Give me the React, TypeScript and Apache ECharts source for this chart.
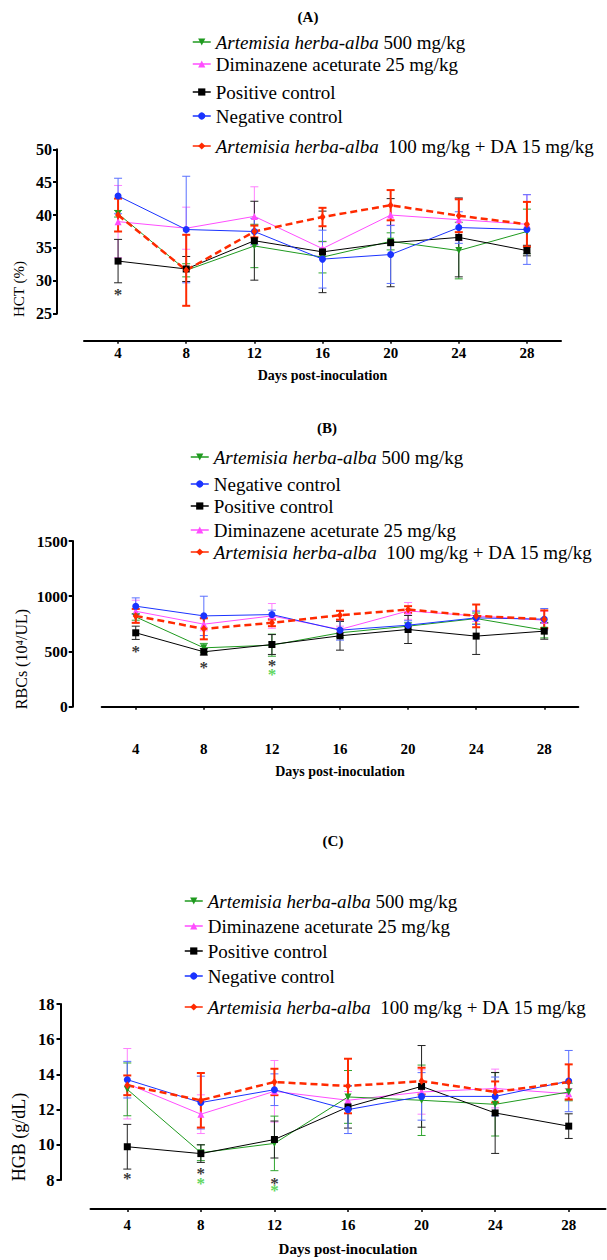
import React, { useEffect, useRef } from "react";
import * as echarts from "echarts";

// ---------- data ----------
const days = [4, 8, 12, 16, 20, 24, 28];

const NAME_AHA500 = "Artemisia herba-alba 500 mg/kg";
const NAME_DA25 = "Diminazene aceturate 25 mg/kg";
const NAME_POS = "Positive control";
const NAME_NEG = "Negative control";
const NAME_COMBO = "Artemisia herba-alba  100 mg/kg + DA 15 mg/kg";

// (A) HCT (%)
const hctAha500 = [40.2, 31.6, 35.3, 33.6, 36.0, 34.6, 37.5];
const hctAha500Sd = [0.5, 1.0, 3.3, 2.4, 1.3, 4.3, 3.4];
const hctDa25 = [39.0, 38.0, 39.8, 34.9, 40.0, 39.3, 38.6];
const hctDa25Sd = [5.5, 3.2, 4.5, 1.0, 1.5, 3.2, 4.5];
const hctPos = [33.0, 31.8, 36.1, 34.4, 35.8, 36.6, 34.6];
const hctPosSd = [3.3, 1.9, 6.0, 6.2, 6.7, 6.0, 0.8];
const hctNeg = [42.9, 37.8, 37.5, 33.3, 34.0, 38.1, 37.8];
const hctNegSd = [2.7, 8.1, 2.0, 4.4, 4.4, 2.4, 5.3];
const hctCombo = [40.0, 31.6, 37.5, 39.7, 41.5, 39.9, 38.6];
const hctComboSd = [2.5, 5.4, 0.9, 1.4, 2.3, 2.5, 3.4];
const hctStarsBlack = [[4, 28.7]];
const hctStarsGreen: number[][] = [];

// (B) RBCs (10^4/UL)
const rbcAha500 = [813, 533, 557, 669, 729, 798, 693];
const rbcAha500Sd = [30, 40, 100, 40, 30, 50, 70];
const rbcNeg = [910, 822, 834, 693, 738, 804, 792];
const rbcNegSd = [75, 178, 40, 90, 40, 60, 97];
const rbcPos = [669, 497, 563, 642, 699, 639, 684];
const rbcPosSd = [60, 30, 90, 130, 127, 166, 73];
const rbcDa25 = [864, 747, 822, 699, 867, 822, 783];
const rbcDa25Sd = [100, 60, 112, 30, 76, 50, 80];
const rbcCombo = [822, 705, 759, 828, 880, 822, 792];
const rbcComboSd = [63, 95, 30, 40, 30, 103, 80];
const rbcStarsBlack = [[4, 549], [8, 398], [12, 416]];
const rbcStarsGreen = [[12, 341]];

// (C) HGB (g/dL)
const hgbAha500 = [13.15, 9.55, 10.08, 12.72, 12.53, 12.3, 13.0];
const hgbAha500Sd = [1.5, 0.45, 1.55, 1.5, 2.0, 1.8, 0.5];
const hgbDa25 = [13.47, 11.74, 13.04, 12.53, 13.0, 13.2, 12.9];
const hgbDa25Sd = [2.0, 1.1, 1.75, 0.5, 1.26, 1.1, 0.3];
const hgbPos = [9.89, 9.5, 10.3, 12.15, 13.32, 11.81, 11.06];
const hgbPosSd = [1.27, 0.5, 1.05, 1.2, 2.32, 2.3, 0.7];
const hgbNeg = [13.7, 12.4, 13.13, 12.0, 12.75, 12.75, 13.62];
const hgbNegSd = [1.04, 1.5, 0.9, 1.36, 1.35, 1.1, 1.74];
const hgbCombo = [13.38, 12.53, 13.57, 13.34, 13.62, 13.0, 13.57];
const hgbComboSd = [0.56, 1.55, 0.75, 1.55, 0.76, 0.6, 1.0];
const hgbStarsBlack = [[4, 8.38], [8, 8.67], [12, 8.1]];
const hgbStarsGreen = [[8, 8.1], [12, 7.66]];

// ---------- styles ----------
const FONT = "Liberation Serif";

type GroupStyle = {
  color: string;
  errColor: string;
  symbol: string;
  size: number | number[];
  rotate: number;
  width: number;
  dashed: boolean;
  errWidth: number;
};

const STY: Record<string, GroupStyle> = {
  [NAME_AHA500]: { color: "#1f9a1f", errColor: "#2fa52f", symbol: "triangle", size: 7, rotate: 180, width: 1, dashed: false, errWidth: 1 },
  [NAME_DA25]: { color: "#ff4dff", errColor: "#ff80ff", symbol: "triangle", size: 7, rotate: 0, width: 1, dashed: false, errWidth: 1 },
  [NAME_POS]: { color: "#000000", errColor: "#222222", symbol: "rect", size: 7, rotate: 0, width: 1, dashed: false, errWidth: 1 },
  [NAME_NEG]: { color: "#1a33ff", errColor: "#5a70ff", symbol: "circle", size: 7, rotate: 0, width: 1, dashed: false, errWidth: 1 },
  [NAME_COMBO]: { color: "#ff2a00", errColor: "#ff2a00", symbol: "diamond", size: [6, 8], rotate: 0, width: 2.5, dashed: true, errWidth: 2 },
};

type Group = { name: string; mean: number[]; sd: number[] };

const panelGroups: Group[][] = [
  [
    { name: NAME_DA25, mean: hctDa25, sd: hctDa25Sd },
    { name: NAME_AHA500, mean: hctAha500, sd: hctAha500Sd },
    { name: NAME_POS, mean: hctPos, sd: hctPosSd },
    { name: NAME_NEG, mean: hctNeg, sd: hctNegSd },
    { name: NAME_COMBO, mean: hctCombo, sd: hctComboSd },
  ],
  [
    { name: NAME_DA25, mean: rbcDa25, sd: rbcDa25Sd },
    { name: NAME_AHA500, mean: rbcAha500, sd: rbcAha500Sd },
    { name: NAME_POS, mean: rbcPos, sd: rbcPosSd },
    { name: NAME_NEG, mean: rbcNeg, sd: rbcNegSd },
    { name: NAME_COMBO, mean: rbcCombo, sd: rbcComboSd },
  ],
  [
    { name: NAME_DA25, mean: hgbDa25, sd: hgbDa25Sd },
    { name: NAME_AHA500, mean: hgbAha500, sd: hgbAha500Sd },
    { name: NAME_POS, mean: hgbPos, sd: hgbPosSd },
    { name: NAME_NEG, mean: hgbNeg, sd: hgbNegSd },
    { name: NAME_COMBO, mean: hgbCombo, sd: hgbComboSd },
  ],
];

const panelStars = [
  { black: hctStarsBlack, green: hctStarsGreen },
  { black: rbcStarsBlack, green: rbcStarsGreen },
  { black: hgbStarsBlack, green: hgbStarsGreen },
];

// layout (px)
const grids = [
  { left: 84, top: 149.3, width: 477, height: 164.4 },
  { left: 101.7, top: 541, width: 476.6, height: 165.7 },
  { left: 90.5, top: 1004, width: 515, height: 176 },
];
const yAxes = [
  { min: 25, max: 50, interval: 5, offset: 27, margin: 5, fs: 16 },
  { min: 0, max: 1500, interval: 500, offset: 29, margin: 5, fs: 15.5 },
  { min: 8, max: 18, interval: 2, offset: 30, margin: 6, fs: 16.5 },
];
const xAxes = [
  { offset: 27, margin: 5, nameGap: 28, nameFs: 14 },
  { offset: 28, margin: 7, nameGap: 30, nameFs: 14 },
  { offset: 29, margin: 8, nameGap: 32, nameFs: 15 },
];
const titles = [
  { text: "(A)", x: 308, y: 17 },
  { text: "(B)", x: 327, y: 428 },
  { text: "(C)", x: 333, y: 841 },
];
const yNames = [
  { text: "HCT (%)", x: 19, y: 289, fs: 15 },
  { text: "RBCs (10⁴/UL)", x: 21.7, y: 659, fs: 16 },
  { text: "HGB (g/dL)", x: 19, y: 1137, fs: 18 },
];
const legendLayouts = [
  { textX: 215, rows: [[NAME_AHA500, 43], [NAME_DA25, 65], [NAME_POS, 93], [NAME_NEG, 117], [NAME_COMBO, 147]] },
  { textX: 213, rows: [[NAME_AHA500, 458], [NAME_NEG, 485], [NAME_POS, 507], [NAME_DA25, 531], [NAME_COMBO, 553]] },
  { textX: 207, rows: [[NAME_AHA500, 902], [NAME_DA25, 927], [NAME_POS, 952], [NAME_NEG, 977], [NAME_COMBO, 1008]] },
];
const LEGEND_FS = 19;

function errSeries(idx: number, g: Group, st: GroupStyle) {
  const color = st.errColor;
  const lw = st.errWidth;
  const cap = 4;
  return {
    type: "custom",
    xAxisIndex: idx,
    yAxisIndex: idx,
    silent: true,
    clip: false,
    encode: { x: 0, y: [1, 2] },
    data: days.map((d, i) => [d, g.mean[i] - g.sd[i], g.mean[i] + g.sd[i]]),
    renderItem: (_p: any, api: any) => {
      const x = api.value(0);
      const a = api.coord([x, api.value(2)]);
      const b = api.coord([x, api.value(1)]);
      const style = { stroke: color, lineWidth: lw };
      return {
        type: "group",
        children: [
          { type: "line", shape: { x1: a[0], y1: a[1], x2: b[0], y2: b[1] }, style },
          { type: "line", shape: { x1: a[0] - cap, y1: a[1], x2: a[0] + cap, y2: a[1] }, style },
          { type: "line", shape: { x1: b[0] - cap, y1: b[1], x2: b[0] + cap, y2: b[1] }, style },
        ],
      };
    },
  };
}

function lineSeries(idx: number, g: Group, st: GroupStyle) {
  return {
    type: "line",
    name: g.name,
    xAxisIndex: idx,
    yAxisIndex: idx,
    data: days.map((d, i) => [d, g.mean[i]]),
    symbol: st.symbol,
    symbolSize: st.size,
    symbolRotate: st.rotate,
    showAllSymbol: true,
    lineStyle: { color: st.color, width: st.width, type: st.dashed ? [7, 4] : "solid" },
    itemStyle: { color: st.color, borderWidth: 0 },
    emphasis: { disabled: true },
  };
}

function starSeries(idx: number, pts: number[][], color: string) {
  return {
    type: "scatter",
    xAxisIndex: idx,
    yAxisIndex: idx,
    silent: true,
    clip: false,
    symbolSize: 1,
    itemStyle: { color: "rgba(0,0,0,0)" },
    data: pts,
    label: {
      show: true,
      position: "inside",
      formatter: "*",
      fontSize: 17,
      fontWeight: "bold",
      fontFamily: FONT,
      color,
      offset: [0, 5],
    },
  };
}

function legendLabel(name: string) {
  const key = "Artemisia herba-alba";
  if (name.startsWith(key)) return `{i|${key}}{n|${name.slice(key.length)}}`;
  return `{n|${name}}`;
}

export default function App() {
  const ref = useRef<HTMLDivElement>(null);

  useEffect(() => {
    if (!ref.current) return;
    const chart = echarts.init(ref.current, undefined, { renderer: "svg" });

    const series: any[] = [];
    panelGroups.forEach((groups, idx) => {
      groups.forEach((g) => {
        const st = STY[g.name];
        series.push(errSeries(idx, g, st));
        series.push(lineSeries(idx, g, st));
      });
      series.push(starSeries(idx, panelStars[idx].black, "#000000"));
      if (panelStars[idx].green.length) series.push(starSeries(idx, panelStars[idx].green, "#33cc33"));
    });

    const legends: any[] = [];
    legendLayouts.forEach((lay) => {
      lay.rows.forEach(([name, cy]) => {
        legends.push({
          data: [name],
          left: (lay.textX as number) - 18 - 5,
          top: (cy as number) - 10.5,
          padding: 0,
          itemWidth: 18,
          itemHeight: 9,
          selectedMode: false,
          lineStyle: { type: "solid", width: 1.5 },
          formatter: legendLabel,
          textStyle: {
            fontFamily: FONT,
            fontSize: LEGEND_FS,
            color: "#000",
            rich: {
              i: { fontFamily: FONT, fontSize: LEGEND_FS, fontStyle: "italic", color: "#000" },
              n: { fontFamily: FONT, fontSize: LEGEND_FS, color: "#000" },
            },
          },
        });
      });
    });

    const graphic: any[] = [];
    titles.forEach((t) =>
      graphic.push({
        type: "text",
        x: t.x,
        y: t.y,
        style: {
          text: t.text,
          fill: "#000",
          fontSize: 15,
          fontWeight: "bold",
          fontFamily: FONT,
          align: "center",
          verticalAlign: "middle",
          textAlign: "center",
          textVerticalAlign: "middle",
        },
      })
    );
    yNames.forEach((t) =>
      graphic.push({
        type: "text",
        x: t.x,
        y: t.y,
        rotation: Math.PI / 2,
        style: {
          text: t.text,
          fill: "#000",
          fontSize: t.fs,
          fontFamily: FONT,
          align: "center",
          verticalAlign: "middle",
          textAlign: "center",
          textVerticalAlign: "middle",
        },
      })
    );

    chart.setOption({
      animation: false,
      backgroundColor: "#ffffff",
      textStyle: { fontFamily: FONT },
      grid: grids.map((g) => ({ ...g, containLabel: false })),
      xAxis: xAxes.map((a, idx) => ({
        type: "value",
        gridIndex: idx,
        min: 2,
        max: 30,
        position: "bottom",
        offset: a.offset,
        name: "Days post-inoculation",
        nameLocation: "middle",
        nameGap: a.nameGap,
        nameTextStyle: { fontFamily: FONT, fontSize: a.nameFs, fontWeight: "bold", color: "#000" },
        axisLine: { show: true, lineStyle: { color: "#000", width: 2 } },
        axisTick: { show: true, customValues: days, length: 3, lineStyle: { color: "#000", width: 1.5 } },
        axisLabel: {
          customValues: days,
          margin: a.margin,
          fontFamily: FONT,
          fontSize: 15,
          fontWeight: "bold",
          color: "#000",
          formatter: (v: number) => String(v),
        },
        splitLine: { show: false },
      })),
      yAxis: yAxes.map((a, idx) => ({
        type: "value",
        gridIndex: idx,
        min: a.min,
        max: a.max,
        interval: a.interval,
        position: "left",
        offset: a.offset,
        axisLine: { show: true, lineStyle: { color: "#000", width: 2 } },
        axisTick: { show: true, length: 4, lineStyle: { color: "#000", width: 2 } },
        axisLabel: {
          margin: a.margin,
          fontFamily: FONT,
          fontSize: a.fs,
          fontWeight: "bold",
          color: "#000",
          formatter: (v: number) => String(v),
        },
        splitLine: { show: false },
      })),
      legend: legends,
      graphic,
      series,
    });

    return () => chart.dispose();
  }, []);

  return (
    <div
      ref={ref}
      style={{ position: "absolute", left: 0, top: 0, width: 607, height: 1260, background: "#fff" }}
    />
  );
}
